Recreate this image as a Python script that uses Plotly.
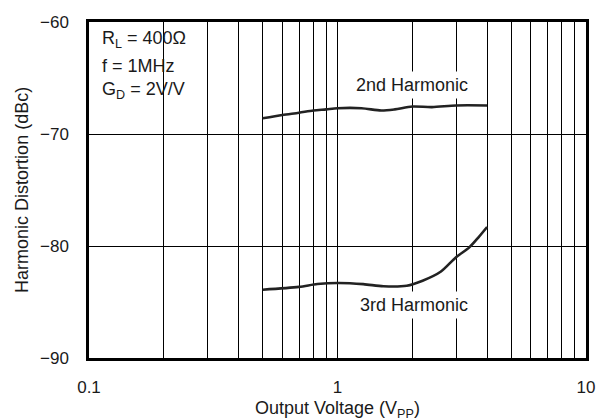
import plotly.graph_objects as go

# Output voltage (Vpp) and harmonic distortion (dBc)
v_2nd = [0.5, 0.6, 0.7, 0.8, 0.9, 1.0, 1.25, 1.5, 1.7, 2.0, 2.4, 3.0, 4.0]
hd_2nd = [-68.6, -68.3, -68.1, -67.9, -67.8, -67.7, -67.7, -67.9, -67.8, -67.55, -67.6, -67.45, -67.45]

v_3rd = [0.5, 0.7, 0.83, 1.0, 1.27, 1.53, 1.9, 2.2, 2.6, 3.0, 3.4, 3.7, 4.0]
hd_3rd = [-83.9, -83.65, -83.4, -83.3, -83.4, -83.6, -83.55, -83.1, -82.3, -81.0, -80.1, -79.2, -78.3]

x_major = [0.1, 1, 10]
x_major_text = ["0.1", "1", "10"]
x_minor = [0.2, 0.3, 0.4, 0.5, 0.6, 0.7, 0.8, 0.9, 2, 3, 4, 5, 6, 7, 8, 9]
y_ticks = [-90, -80, -70, -60]

FONT = "Liberation Sans, Arial, Helvetica, sans-serif"
INK = "#1a1a1a"

fig = go.Figure()
for xs, ys in [(v_2nd, hd_2nd), (v_3rd, hd_3rd)]:
    fig.add_trace(go.Scatter(
        x=xs, y=ys, mode="lines",
        line=dict(color="#222222", width=2.6, shape="spline", smoothing=0.8),
        showlegend=False, hoverinfo="skip",
    ))

fig.update_layout(
    width=598, height=420,
    margin=dict(l=89, r=12, t=22, b=62),
    paper_bgcolor="white", plot_bgcolor="white",
    font=dict(family=FONT, size=17, color=INK),
    showlegend=False,
)

fig.update_xaxes(
    type="log", range=[-1, 1], automargin=False,
    tickvals=x_major, ticktext=x_major_text,
    ticks="", ticklabelstandoff=12,
    showgrid=True, gridcolor="black", gridwidth=1,
    minor=dict(tickvals=x_minor, showgrid=True, gridcolor="black", gridwidth=1, ticks=""),
    showline=True, linecolor="black", linewidth=2.5, mirror=True,
    zeroline=False,
)
fig.update_yaxes(
    range=[-90, -60], tickvals=y_ticks, automargin=False,
    ticks="", ticklabelstandoff=14,
    showgrid=True, gridcolor="black", gridwidth=1,
    showline=True, linecolor="black", linewidth=2.5, mirror=True,
    zeroline=False,
)

# White panel behind the test-condition text
fig.add_shape(type="rect", xref="paper", yref="paper",
              x0=0.004, x1=0.213, y0=0.747, y1=0.991,
              fillcolor="white", line=dict(width=0), layer="between")

conditions = ["R<sub>L</sub> = 400Ω", "f = 1MHz", "G<sub>D</sub> = 2V/V"]
cond_y = [0.949, 0.869, 0.795]
for txt, yy in zip(conditions, cond_y):
    fig.add_annotation(text=txt, xref="paper", yref="paper", x=0.022, y=yy,
                       xanchor="left", yanchor="middle", showarrow=False,
                       font=dict(size=18, family=FONT, color=INK))

fig.add_annotation(text="2nd Harmonic", xref="paper", yref="paper", x=0.650, y=0.8125,
                   xanchor="center", yanchor="middle", showarrow=False,
                   bgcolor="white", borderpad=3,
                   font=dict(size=18, family=FONT, color=INK))
fig.add_annotation(text="3rd Harmonic", xref="paper", yref="paper", x=0.654, y=0.158,
                   xanchor="center", yanchor="middle", showarrow=False,
                   bgcolor="white", borderpad=3,
                   font=dict(size=18, family=FONT, color=INK))

# Axis titles
fig.add_annotation(text="Output Voltage (V<sub>PP</sub>)", xref="paper", yref="paper",
                   x=0.499, y=-0.152, xanchor="center", yanchor="middle", showarrow=False,
                   font=dict(size=18, family=FONT, color=INK))
fig.add_annotation(text="Harmonic Distortion (dBc)", xref="paper", yref="paper",
                   x=-0.135, y=0.5, xanchor="center", yanchor="middle", textangle=-90,
                   showarrow=False, font=dict(size=18, family=FONT, color=INK))

fig.write_html("out.html")
